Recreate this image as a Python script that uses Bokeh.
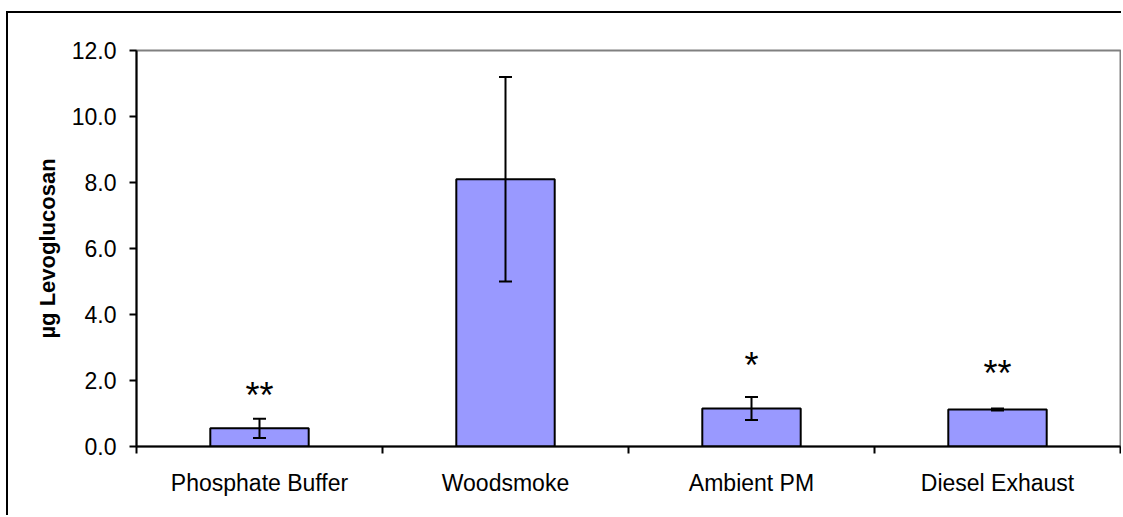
from bokeh.plotting import figure
from bokeh.models import Range1d, FixedTicker, NumeralTickFormatter, Whisker, ColumnDataSource, TeeHead
from bokeh.core.properties import value
from bokeh.embed import file_html
from bokeh.resources import INLINE

categories = ["Phosphate Buffer", "Woodsmoke", "Ambient PM", "Diesel Exhaust"]
means = [0.55, 8.1, 1.15, 1.12]
errors = [0.29, 3.1, 0.35, 0.03]
stars = ["**", "", "*", "**"]
star_y = [1.7, 0.0, 2.6, 2.35]
y_ticks = [0, 2, 4, 6, 8, 10, 12]

xs = [i + 0.5 for i in range(len(categories))]
src = ColumnDataSource(dict(
    x=xs, top=means,
    lower=[m - e for m, e in zip(means, errors)],
    upper=[m + e for m, e in zip(means, errors)],
))
star_src = ColumnDataSource(dict(x=[x for x, s in zip(xs, stars) if s],
                                 y=[y for y, s in zip(star_y, stars) if s],
                                 t=[s for s in stars if s]))

p = figure(width=1115, height=504, output_backend="svg", toolbar_location=None,
           x_range=Range1d(0, 4), y_range=Range1d(0, 12),
           min_border_left=128, min_border_top=37, min_border_right=3, min_border_bottom=71)
p.styles = {"border-left": "2px solid black", "border-top": "2px solid black",
            "margin-left": "6px", "margin-top": "11px"}
p.background_fill_color = "white"
p.border_fill_color = "white"
p.outline_line_color = "#808080"
p.outline_line_width = 2
p.grid.visible = False

p.vbar(x="x", top="top", width=0.4, source=src, fill_color="#9999FF",
       line_color="black", line_width=2)
w = Whisker(source=src, base="x", upper="upper", lower="lower", line_color="black", line_width=2,
            upper_head=TeeHead(size=13, line_width=2, line_color="black"),
            lower_head=TeeHead(size=13, line_width=2, line_color="black"), level="overlay")
p.add_layout(w)

p.text(x="x", y="y", text="t", source=star_src, text_align="center", text_baseline="middle",
       y_offset=5, text_font=value("Liberation Sans"), text_font_size="36px", text_color="black")

ya = p.yaxis[0]
ya.ticker = FixedTicker(ticks=y_ticks)
ya.formatter = NumeralTickFormatter(format="0.0")
ya.axis_line_width = 2
ya.axis_line_color = "black"
ya.major_tick_line_width = 2
ya.major_tick_line_color = "black"
ya.major_tick_out = 7
ya.major_tick_in = 0
ya.minor_tick_line_color = None
ya.major_label_text_font = "Liberation Sans"
ya.major_label_text_font_size = "23px"
ya.major_label_text_color = "black"
ya.major_label_standoff = 13
ya.axis_label = "µg Levoglucosan"
ya.axis_label_text_font = "Liberation Sans"
ya.axis_label_text_font_size = "22px"
ya.axis_label_text_font_style = "bold"
ya.axis_label_text_color = "black"
ya.axis_label_standoff = 9

xa = p.xaxis[0]
xa.ticker = FixedTicker(ticks=xs, minor_ticks=[0, 1, 2, 3, 4])
xa.major_label_overrides = {x: c for x, c in zip(xs, categories)}
xa.axis_line_width = 2
xa.axis_line_color = "black"
xa.major_tick_line_color = None
xa.major_tick_out = 0
xa.major_tick_in = 0
xa.minor_tick_line_color = "black"
xa.minor_tick_line_width = 2
xa.minor_tick_out = 7
xa.minor_tick_in = 0
xa.major_label_text_font = "Liberation Sans"
xa.major_label_text_font_size = "23px"
xa.major_label_text_color = "black"
xa.major_label_standoff = 16

open("out.html", "w").write(file_html(p, INLINE))
